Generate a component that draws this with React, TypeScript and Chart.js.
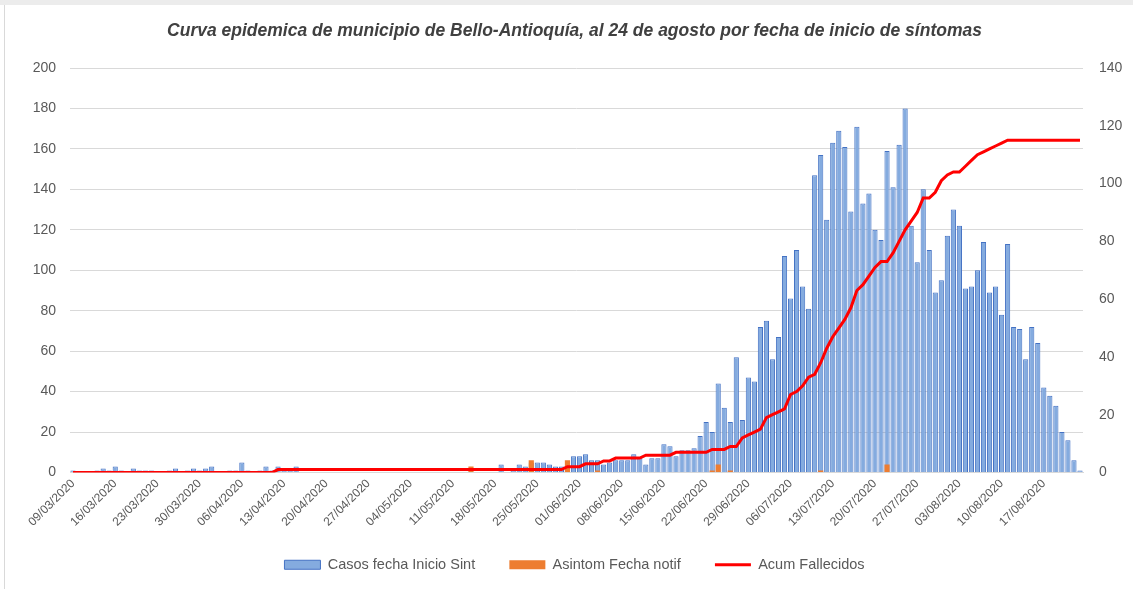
import React, { useEffect, useRef } from 'react';
import { Chart, registerables } from 'chart.js';

Chart.register(...registerables);

const FONT = "'Liberation Sans', Arial, sans-serif";

const TITLE = 'Curva epidemica de municipio de Bello-Antioquía, al 24 de agosto por fecha de inicio de síntomas';

// Daily categories: 09/03/2020 .. 23/08/2020
const START_DAY = { y: 2020, m: 3, d: 9 };
const DAY_COUNT = 168;
const TICK_EVERY = 7;

function pad2(n: number) {
  return n < 10 ? '0' + n : String(n);
}
function buildCategories(): string[] {
  const out: string[] = [];
  for (let i = 0; i < DAY_COUNT; i++) {
    const dt = new Date(Date.UTC(START_DAY.y, START_DAY.m - 1, START_DAY.d + i));
    out.push(pad2(dt.getUTCDate()) + '/' + pad2(dt.getUTCMonth() + 1) + '/' + dt.getUTCFullYear());
  }
  return out;
}
const categories = buildCategories();

const SERIES_LABELS = ['Casos fecha Inicio Sint', 'Asintom Fecha notif', 'Acum Fallecidos'];

const casosInicioSint = [
  1, 0, 0, 0, 1, 2, 1, 3, 1, 0,
  2, 1, 1, 1, 0, 0, 1, 2, 0, 1,
  2, 1, 2, 3, 0, 0, 1, 1, 5, 1,
  0, 1, 3, 1, 3, 1, 1, 3, 0, 0,
  0, 0, 0, 0, 0, 0, 0, 0, 0, 0,
  0, 0, 0, 0, 0, 0, 0, 0, 0, 0,
  0, 0, 0, 0, 0, 0, 0, 0, 0, 0,
  0, 4, 0, 1, 4, 3, 5, 5, 5, 4,
  3, 3, 3, 8, 8, 9, 6, 6, 4, 5,
  6, 6, 6, 9, 7, 4, 7, 7, 14, 13,
  8, 11, 11, 12, 18, 25, 20, 44, 32, 25,
  57, 26, 47, 45, 72, 75, 56, 67, 107, 86,
  110, 92, 81, 147, 157, 125, 163, 169, 161, 129,
  171, 133, 138, 120, 115, 159, 141, 162, 180, 122,
  104, 140, 110, 89, 95, 117, 130, 122, 91, 92,
  100, 114, 89, 92, 78, 113, 72, 71, 56, 72,
  64, 42, 38, 33, 20, 16, 6, 1,
];

const asintomDates = ['14/05/2020', '24/05/2020', '30/05/2020', '04/06/2020', '23/06/2020', '24/06/2020', '26/06/2020', '11/07/2020', '22/07/2020'];
const asintomValues = [3, 6, 6, 1, 1, 4, 1, 1, 4];

const acumFallecidos = [
  0, 0, 0, 0, 0, 0, 0, 0, 0, 0,
  0, 0, 0, 0, 0, 0, 0, 0, 0, 0,
  0, 0, 0, 0, 0, 0, 0, 0, 0, 0,
  0, 0, 0, 0, 1, 1, 1, 1, 1, 1,
  1, 1, 1, 1, 1, 1, 1, 1, 1, 1,
  1, 1, 1, 1, 1, 1, 1, 1, 1, 1,
  1, 1, 1, 1, 1, 1, 1, 1, 1, 1,
  1, 1, 1, 1, 1, 1, 1, 1, 1, 1,
  1, 1, 2, 2, 2, 3, 3, 3, 4, 4,
  5, 5, 5, 5, 5, 6, 6, 6, 6, 6,
  7, 7, 7, 7, 7, 7, 8, 8, 8, 9,
  9, 12, 13, 14, 15, 19, 20, 21, 22, 27,
  28, 30, 33, 34, 38, 43, 47, 50, 53, 57,
  63, 65, 68, 71, 73, 73, 76, 80, 84, 87,
  90, 95, 95, 97, 101, 103, 104, 104, 106, 108,
  110, 111, 112, 113, 114, 115, 115, 115, 115, 115,
  115, 115, 115, 115, 115, 115, 115, 115,
];

const leftTicks = { min: 0, max: 200, step: 20 };
const rightTicks = { min: 0, max: 140, step: 20 };

export default function App() {
  const ref = useRef<HTMLCanvasElement>(null);

  useEffect(() => {
    if (!ref.current) return;
    const asintomSeries = categories.map((c) => {
      const k = asintomDates.indexOf(c);
      return k >= 0 ? asintomValues[k] : null;
    });

    const chart = new Chart(ref.current, {
      type: 'bar',
      data: {
        labels: categories,
        datasets: [
          {
            type: 'bar',
            label: SERIES_LABELS[0],
            data: casosInicioSint,
            backgroundColor: '#84abdf',
            borderColor: '#4472c4',
            borderWidth: 1,
            grouped: false,
            categoryPercentage: 1,
            barPercentage: 0.86,
            yAxisID: 'y',
            order: 2,
            pointStyle: 'rect',
          } as any,
          {
            type: 'bar',
            label: SERIES_LABELS[1],
            data: asintomSeries,
            backgroundColor: '#ed7d31',
            borderColor: '#ed7d31',
            borderWidth: 0,
            grouped: false,
            categoryPercentage: 1,
            barPercentage: 0.86,
            yAxisID: 'y',
            order: 1,
            pointStyle: 'rect',
          } as any,
          {
            type: 'line',
            label: SERIES_LABELS[2],
            data: acumFallecidos,
            borderColor: '#ff0000',
            backgroundColor: '#ff0000',
            borderWidth: 3,
            pointRadius: 0,
            pointBorderWidth: 3,
            pointStyle: 'line',
            tension: 0,
            yAxisID: 'y1',
            order: 0,
          } as any,
        ],
      },
      options: {
        animation: false,
        responsive: false,
        maintainAspectRatio: false,
        layout: { padding: { left: 16, right: 0, top: 0, bottom: 7 } },
        plugins: {
          title: {
            display: true,
            text: TITLE,
            color: '#404040',
            font: { family: FONT, size: 17.5, weight: 'bold', style: 'italic' },
            padding: { top: 21, bottom: 26 },
          },
          legend: {
            position: 'bottom',
            labels: {
              usePointStyle: true,
              pointStyleWidth: 36,
              boxHeight: 9,
              color: '#595959',
              font: { family: FONT, size: 14.5 },
              padding: 10,
              sort: (a: any, b: any) => a.datasetIndex - b.datasetIndex,
              generateLabels: (ch: any) => {
                const items = (Chart.defaults.plugins.legend.labels as any).generateLabels(ch);
                return items.map((it: any) =>
                  it.datasetIndex < 2 ? { ...it, text: it.text + '      ' } : it
                );
              },
            },
          } as any,
          tooltip: { enabled: false },
        },
        scales: {
          x: {
            type: 'category',
            grid: { display: false, drawTicks: false },
            border: { display: true, color: '#d9d9d9', width: 1 },
            ticks: {
              autoSkip: false,
              minRotation: 45,
              maxRotation: 45,
              padding: 4,
              color: '#595959',
              font: { family: FONT, size: 12 },
              callback: (_v: any, i: number) => (i % TICK_EVERY === 0 ? categories[i] : ''),
            },
            afterFit: (s: any) => {
              s.height = 75;
            },
          },
          y: {
            position: 'left',
            min: leftTicks.min,
            max: leftTicks.max,
            ticks: { stepSize: leftTicks.step, padding: 14, color: '#595959', font: { family: FONT, size: 14 } },
            grid: { color: '#d9d9d9', drawTicks: false },
            border: { display: false },
            afterFit: (s: any) => {
              s.width = 54;
            },
          },
          y1: {
            position: 'right',
            min: rightTicks.min,
            max: rightTicks.max,
            ticks: { stepSize: rightTicks.step, padding: 16, color: '#595959', font: { family: FONT, size: 14 } },
            grid: { drawOnChartArea: false, drawTicks: false },
            border: { display: false },
            afterFit: (s: any) => {
              s.width = 50;
            },
          },
        },
      } as any,
    });
    return () => chart.destroy();
  }, []);

  return (
    <div style={{ position: 'fixed', left: 0, top: 0, width: 1133, height: 589, background: '#ffffff', overflow: 'hidden' }}>
      <div style={{ position: 'absolute', left: 0, top: 0, width: 1133, height: 5, background: '#ececec' }} />
      <div style={{ position: 'absolute', left: 4, top: 5, width: 1, height: 584, background: '#d9d9d9' }} />
      <canvas ref={ref} width={1133} height={589} style={{ position: 'absolute', left: 0, top: 0, width: 1133, height: 589 }} />
    </div>
  );
}
